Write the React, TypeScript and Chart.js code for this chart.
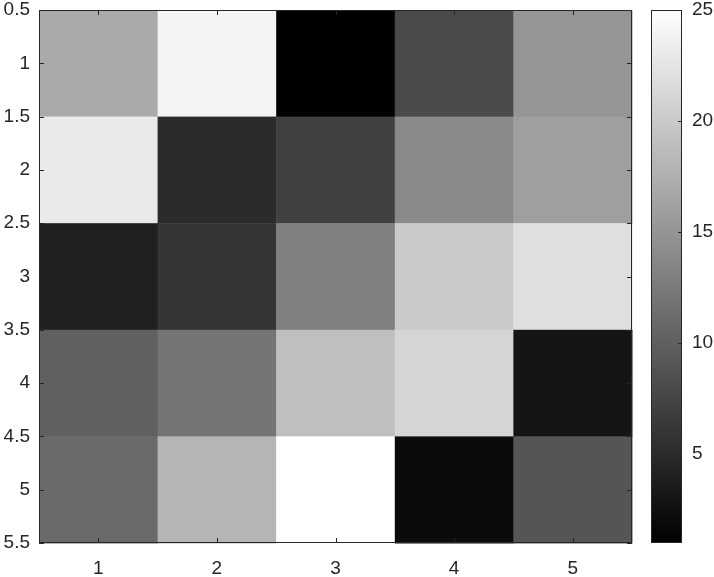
import React, { useEffect, useRef } from "react";
import { Chart, registerables } from "chart.js";

Chart.register(...registerables);

const matrix: number[][] = [
  [17, 24, 1, 8, 15],
  [23, 5, 7, 14, 16],
  [4, 6, 13, 20, 22],
  [10, 12, 19, 21, 3],
  [11, 18, 25, 2, 9],
];
const xTicks = [1, 2, 3, 4, 5];
const yTicks = [0.5, 1, 1.5, 2, 2.5, 3, 3.5, 4, 4.5, 5, 5.5];
const cbTicks = [5, 10, 15, 20, 25];
const cMin = 1;
const cMax = 25;

const AX = "#262626";
const FAMILY = "'Liberation Sans', Arial, sans-serif";
const FSIZE = 19;
const FONT = { family: FAMILY, size: FSIZE };

function gray(v: number) {
  const g = Math.round(((v - cMin) / (cMax - cMin)) * 255);
  return `rgb(${g},${g},${g})`;
}

const heatPlugin = {
  id: "heat",
  beforeDatasetsDraw(chart: any) {
    const ctx = chart.ctx;
    const xs = chart.scales.x;
    const ys = chart.scales.y;
    ctx.save();
    matrix.forEach((row, r) => {
      row.forEach((v, c) => {
        const x0 = xs.getPixelForValue(c + 0.5);
        const x1 = xs.getPixelForValue(c + 1.5);
        const y0 = ys.getPixelForValue(r + 0.5);
        const y1 = ys.getPixelForValue(r + 1.5);
        ctx.fillStyle = gray(v);
        ctx.fillRect(Math.min(x0, x1), Math.min(y0, y1), Math.abs(x1 - x0) + 0.5, Math.abs(y1 - y0) + 0.5);
      });
    });
    ctx.restore();
  },
  afterDatasetsDraw(chart: any) {
    const ctx = chart.ctx;
    const { left, right, top, bottom } = chart.chartArea;
    const xs = chart.scales.x;
    const ys = chart.scales.y;
    const cb = chart.scales.cb;
    const tl = 5;
    ctx.save();
    ctx.strokeStyle = AX;
    ctx.lineWidth = 1;
    ctx.beginPath();
    xTicks.forEach((t) => {
      const px = Math.round(xs.getPixelForValue(t)) + 0.5;
      ctx.moveTo(px, bottom);
      ctx.lineTo(px, bottom - tl);
      ctx.moveTo(px, top);
      ctx.lineTo(px, top + tl);
    });
    yTicks.forEach((t) => {
      const py = Math.round(ys.getPixelForValue(t)) + 0.5;
      ctx.moveTo(left, py);
      ctx.lineTo(left + tl, py);
      ctx.moveTo(right, py);
      ctx.lineTo(right - tl, py);
    });
    ctx.stroke();
    ctx.strokeRect(Math.round(left) + 0.5, Math.round(top) + 0.5, Math.round(right - left) - 1, Math.round(bottom - top) - 1);

    // colorbar
    const cbL = 651;
    const cbR = 682;
    const cTop = cb.getPixelForValue(cMax);
    const cBot = cb.getPixelForValue(cMin);
    const grad = ctx.createLinearGradient(0, cBot, 0, cTop);
    grad.addColorStop(0, gray(cMin));
    grad.addColorStop(1, gray(cMax));
    ctx.fillStyle = grad;
    ctx.fillRect(cbL, cTop, cbR - cbL, cBot - cTop);
    ctx.beginPath();
    cbTicks.forEach((t) => {
      const py = Math.round(cb.getPixelForValue(t)) + 0.5;
      ctx.moveTo(cbR, py);
      ctx.lineTo(cbR - 4, py);
    });
    ctx.stroke();
    ctx.strokeRect(cbL + 0.5, Math.round(cTop) + 0.5, cbR - cbL - 1, Math.round(cBot - cTop) - 1);

    ctx.fillStyle = AX;
    ctx.font = `${FSIZE}px ${FAMILY}`;
    ctx.textAlign = "left";
    ctx.textBaseline = "middle";
    cbTicks.forEach((t) => {
      ctx.fillText(String(t), cbR + 10, cb.getPixelForValue(t));
    });
    ctx.restore();
  },
};

export default function App() {
  const ref = useRef<HTMLCanvasElement>(null);
  useEffect(() => {
    if (!ref.current) return;
    const noPadV = (s: any, w: number) => {
      s.width = w;
      s.paddingTop = 0;
      s.paddingBottom = 0;
    };
    const chart = new Chart(ref.current, {
      type: "scatter",
      data: { datasets: [{ data: [], showLine: false }] },
      options: {
        responsive: false,
        animation: false,
        layout: { padding: { top: 10, left: 0, right: 0, bottom: 0 } },
        plugins: { legend: { display: false }, tooltip: { enabled: false } },
        scales: {
          x: {
            type: "linear",
            position: "bottom",
            min: 0.5,
            max: 5.5,
            grid: { display: false, drawTicks: false },
            border: { display: false },
            afterBuildTicks: (s: any) => {
              s.ticks = xTicks.map((v) => ({ value: v }));
            },
            afterFit: (s: any) => {
              s.height = 34;
              s.paddingLeft = 0;
              s.paddingRight = 0;
            },
            ticks: { color: AX, font: FONT, padding: 14, maxRotation: 0, autoSkip: false },
          },
          y: {
            type: "linear",
            position: "left",
            reverse: true,
            min: 0.5,
            max: 5.5,
            grid: { display: false, drawTicks: false },
            border: { display: false },
            afterBuildTicks: (s: any) => {
              s.ticks = yTicks.map((v) => ({ value: v }));
            },
            afterFit: (s: any) => noPadV(s, 39),
            ticks: { color: AX, font: FONT, padding: 9, autoSkip: false, callback: (v: any) => String(v) },
          },
          cb: {
            type: "linear",
            position: "right",
            min: cMin,
            max: cMax,
            grid: { display: false, drawTicks: false },
            border: { display: false },
            afterBuildTicks: (s: any) => {
              s.ticks = cbTicks.map((v) => ({ value: v }));
            },
            afterFit: (s: any) => noPadV(s, 82),
            ticks: { display: false },
          },
        },
      } as any,
      plugins: [heatPlugin],
    });
    return () => chart.destroy();
  }, []);
  return (
    <div style={{ position: "fixed", left: 0, top: 0, width: 714, height: 577, background: "#fff" }}>
      <canvas ref={ref} width={714} height={577} />
    </div>
  );
}
